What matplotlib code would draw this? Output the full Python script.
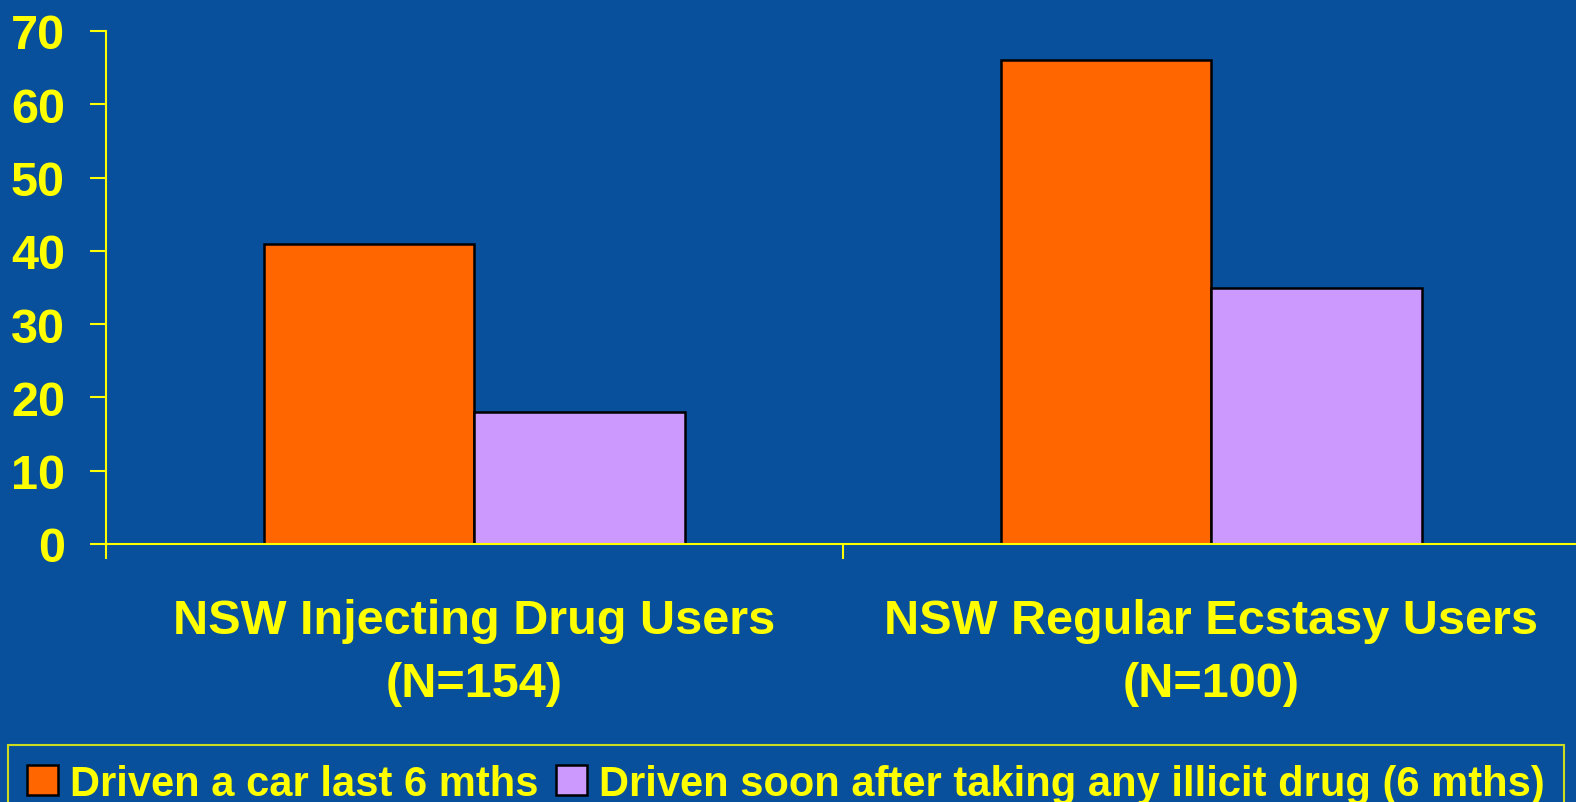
import matplotlib
matplotlib.use("Agg")
import matplotlib.pyplot as plt
import numpy as np

BG = "#08509C"
YELLOW = "#FFFF00"
ORANGE = "#FF6600"
PURPLE = "#CC99FF"

categories = ["NSW Injecting Drug Users\n(N=154)", "NSW Regular Ecstasy Users\n(N=100)"]
series_names = ["Driven a car last 6 mths", "Driven soon after taking any illicit drug (6 mths)"]
driven_car = [41, 66]
driven_after_drug = [18, 35]
yticks = [0, 10, 20, 30, 40, 50, 60, 70]

plt.rcParams["font.family"] = ["Liberation Sans", "DejaVu Sans"]
plt.rcParams["font.weight"] = "bold"

fig = plt.figure(figsize=(15.76, 8.03), dpi=100, facecolor=BG)
ax = fig.add_axes([106 / 1576, 258 / 803, 1474 / 1576, 513 / 803])
ax.set_facecolor(BG)

x = np.arange(len(categories))
w = 0.285
ax.bar(x - w / 2, driven_car, w, color=ORANGE, edgecolor="black", linewidth=1.8, label=series_names[0])
ax.bar(x + w / 2, driven_after_drug, w, color=PURPLE, edgecolor="black", linewidth=1.8, label=series_names[1])

ax.set_xlim(-0.5, 1.5)
ax.set_ylim(0, 70)
ax.set_yticks(yticks)
ax.set_yticklabels([str(t) for t in yticks], fontsize=35, fontweight="bold", color=YELLOW)
ax.tick_params(axis="y", colors=YELLOW, length=11.5, width=1.5, pad=18, labelcolor=YELLOW)

ax.set_xticks([-0.5, 0.5, 1.5])
ax.set_xticklabels([])
ax.tick_params(axis="x", which="major", colors=YELLOW, length=11, width=1.5)
ax.set_xticks(x, minor=True)
ax.set_xticklabels(categories, minor=True, fontsize=35, fontweight="bold", color=YELLOW, linespacing=1.5)
ax.tick_params(axis="x", which="minor", length=0, pad=39)

for side in ["top", "right"]:
    ax.spines[side].set_visible(False)
for side in ["left", "bottom"]:
    ax.spines[side].set_color(YELLOW)
    ax.spines[side].set_linewidth(1.5)

leg = fig.legend(
    loc="upper left",
    bbox_to_anchor=(8 / 1576, 1 - 746 / 803),
    ncol=2,
    frameon=True,
    fancybox=False,
    facecolor=BG,
    edgecolor=YELLOW,
    handlelength=0.75,
    handleheight=0.75,
    handletextpad=0.3,
    columnspacing=0.4,
    borderpad=0.45,
    borderaxespad=0,
    prop={"family": ["Liberation Sans", "DejaVu Sans"], "weight": "bold", "size": 30},
)
leg.get_frame().set_linewidth(1.5)
for t in leg.get_texts():
    t.set_color(YELLOW)

fig.savefig("out.png", dpi=100, facecolor=BG)
